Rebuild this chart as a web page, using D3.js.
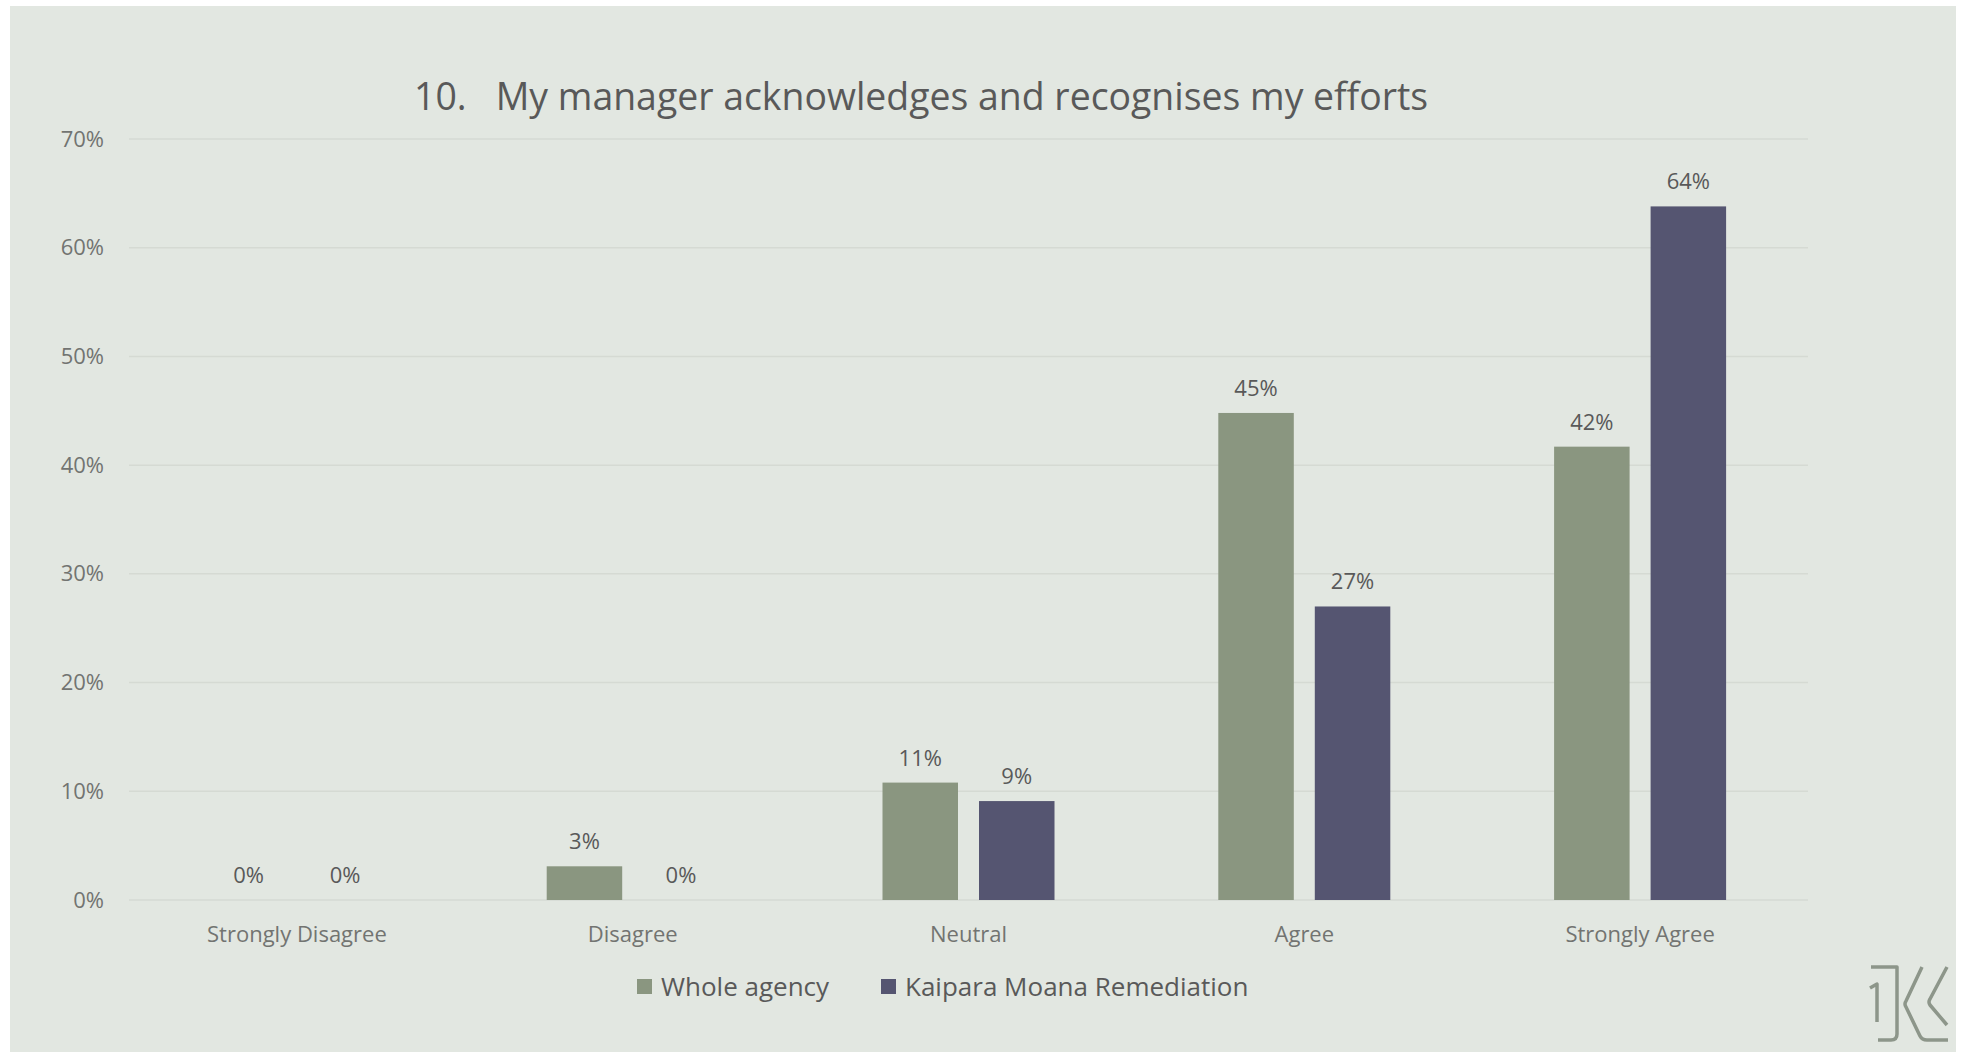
<!DOCTYPE html>
<html>
<head>
<meta charset="utf-8">
<script src="https://cdn.jsdelivr.net/npm/d3@7"></script>
<style>
  html, body { margin: 0; padding: 0; background: #ffffff; }
  svg { display: block; }
  text { font-family: "Open Sans", "Noto Sans", sans-serif; }
</style>
</head>
<body>
<svg id="chart" width="1966" height="1054"></svg>
<script>
const title = "10.   My manager acknowledges and recognises my efforts";
const categories = ["Strongly Disagree", "Disagree", "Neutral", "Agree", "Strongly Agree"];
const seriesNames = ["Whole agency", "Kaipara Moana Remediation"];
const wholeAgency = [0, 3.1, 10.8, 44.8, 41.7];
const kaipara = [0, 0, 9.1, 27.0, 63.8];
const yTicks = [0, 10, 20, 30, 40, 50, 60, 70];
const colors = ["#8a9680", "#555571"];

const svg = d3.select("#chart");

// background panel
svg.append("rect").attr("x", 10).attr("y", 6).attr("width", 1946).attr("height", 1046).attr("fill", "#e2e7e1");

const plot = { left: 129, right: 1808, top: 139, bottom: 900 };

const x0 = d3.scaleBand().domain(categories).range([plot.left, plot.right]).paddingInner(0).paddingOuter(0);
const y = d3.scaleLinear().domain([0, 70]).range([plot.bottom, plot.top]);

// gridlines
svg.append("g").selectAll("line").data(yTicks).join("line")
  .attr("x1", plot.left).attr("x2", plot.right)
  .attr("y1", d => y(d)).attr("y2", d => y(d))
  .attr("stroke", "#d5dad3").attr("stroke-width", 1.5);

// y axis labels
const yAxis = d3.axisLeft(y).tickValues(yTicks).tickFormat(d => d + "%").tickSize(0).tickPadding(0);
const yg = svg.append("g").attr("transform", `translate(104,0)`).call(yAxis);
yg.select(".domain").remove();
yg.selectAll("text").attr("font-size", 22).attr("fill", "#727471").attr("font-family", "Open Sans");

// title
svg.append("text").attr("x", 414).attr("y", 110).attr("font-size", 37.4).attr("fill", "#595959")
  .attr("xml:space", "preserve").text(title);

// bars
const barW = 75.5, gap = 21;
const groups = categories.map((c, i) => ({ c, vals: [wholeAgency[i], kaipara[i]] }));
const g = svg.append("g");
groups.forEach(grp => {
  const cx = x0(grp.c) + x0.bandwidth() / 2;
  grp.vals.forEach((v, s) => {
    const bx = s === 0 ? cx - gap / 2 - barW : cx + gap / 2;
    if (v > 0) {
      g.append("rect").attr("x", bx).attr("y", y(v)).attr("width", barW)
        .attr("height", y(0) - y(v)).attr("fill", colors[s]);
    }
    g.append("text").attr("x", bx + barW / 2).attr("y", y(v) - 17)
      .attr("text-anchor", "middle").attr("font-size", 22).attr("fill", "#595959")
      .text(Math.round(v) + "%");
  });
});

// category labels
const xAxis = d3.axisBottom(x0).tickSize(0).tickPadding(0);
const xg = svg.append("g").attr("transform", `translate(0,${plot.bottom + 22})`).call(xAxis);
xg.select(".domain").remove();
xg.selectAll("text").attr("font-size", 22).attr("fill", "#727471").attr("font-family", "Open Sans").attr("dy", "0.9em");

// legend
const legend = svg.append("g");
const legendItems = [{ x: 637, name: seriesNames[0], color: colors[0] }, { x: 881, name: seriesNames[1], color: colors[1] }];
legendItems.forEach(it => {
  legend.append("rect").attr("x", it.x).attr("y", 979).attr("width", 15).attr("height", 15).attr("fill", it.color);
  legend.append("text").attr("x", it.x + 24).attr("y", 996).attr("font-size", 26).attr("fill", "#595959").text(it.name);
});

// logo
const logo = svg.append("g").attr("fill", "none").attr("stroke", "#8d968a").attr("stroke-width", 3.5)
  .attr("stroke-linecap", "butt").attr("stroke-linejoin", "round");
logo.append("path").attr("d", "M1871,967 L1897,967 L1897,1034 Q1897,1040 1891,1040 L1878,1040");
logo.append("path").attr("d", "M1870,988 L1877,984 L1877,1022");
logo.append("path").attr("d", "M1922,967 L1906,1001 Q1904,1004 1906,1007 L1920,1036 Q1922,1040 1927,1040 L1948,1040");
logo.append("path").attr("d", "M1947,967 L1930,999 Q1928,1002 1930,1005 L1947,1025");
</script>
</body>
</html>
